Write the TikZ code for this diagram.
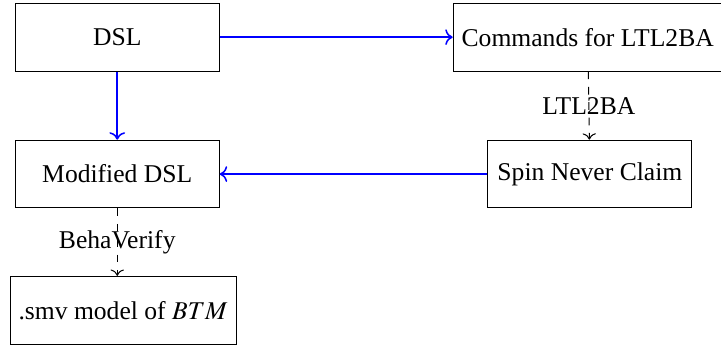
\documentclass[tikz,border=0pt]{standalone}
\usepackage{mathptmx}
\usepackage{fontspec}
\setmainfont{Liberation Serif}
\usepackage{tikz}
\usetikzlibrary{arrows,positioning,calc,arrows.meta}

\tikzset{
    box/.style={draw, rectangle, minimum width=2.8cm, minimum height=0.93cm, inner sep=3.3pt},
    flow/.style={->, blue, semithick},
    tool/.style={->, dashed}
}

\begin{document}
\begin{tikzpicture}
    \useasboundingbox (0,0) rectangle (9.90,-4.75);

    % Boxes
    \node[box] (dsl)  at (1.61,-0.51) {DSL};
    \node[box] (cmds) at (8.07,-0.51) {Commands for LTL2BA};
    \node[box] (mod)  at (1.61,-2.39) {Modified DSL};
    \node[box] (spin) at (8.10,-2.39) {Spin Never Claim};
    \node[box] (smv)  at (1.69,-4.26) {.smv model of $BTM$};

    % Arrows
    \draw[flow] (dsl) -- (cmds);
    \draw[flow] (dsl) -- (mod);
    \draw[flow] (spin) -- (mod);
    \draw[tool] (cmds) -- (spin) node[midway] {LTL2BA};
    \draw[tool] (mod.south) -- (mod.south |- smv.north) node[midway] {BehaVerify};
\end{tikzpicture}
\end{document}
